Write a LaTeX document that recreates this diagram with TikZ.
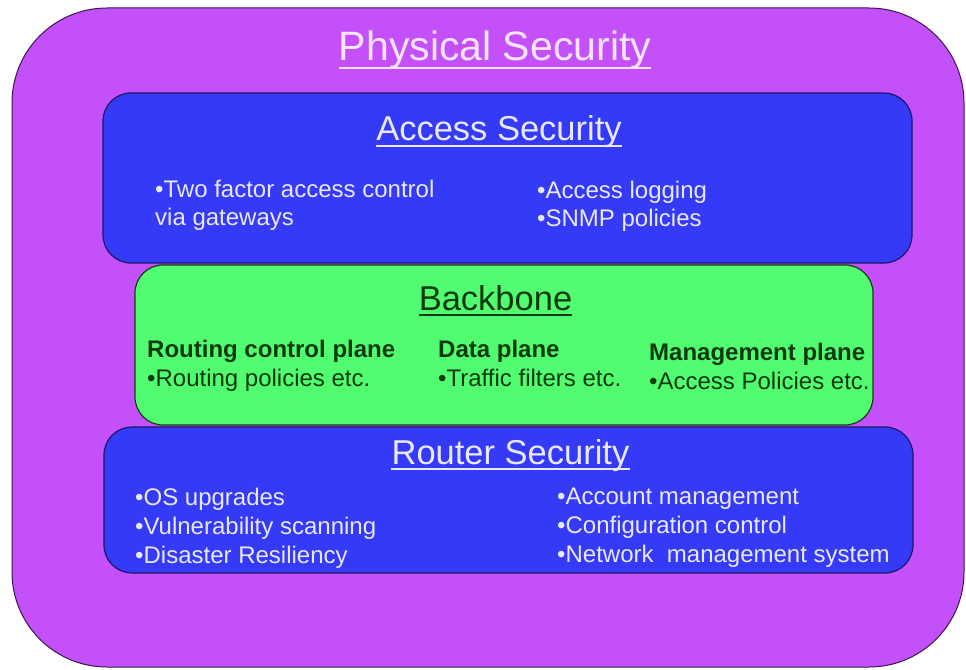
\documentclass[tikz,border=0pt]{standalone}
\usepackage{fontspec}
\setmainfont{Liberation Sans}
\definecolor{purp}{RGB}{196,80,250}
\definecolor{purpline}{RGB}{60,20,80}
\definecolor{bluebox}{RGB}{52,58,245}
\definecolor{blueline}{RGB}{25,25,100}
\definecolor{greenbox}{RGB}{82,252,112}
\definecolor{greenline}{RGB}{20,60,20}
\definecolor{bluetext}{RGB}{232,232,255}
\definecolor{purptext}{RGB}{250,228,255}
\definecolor{greentext}{RGB}{12,58,12}
\tikzset{
  x=1pt, y=-1pt,
  outerbox/.style={draw=purpline, fill=purp, line width=1pt, rounded corners=95pt},
  bluepanel/.style={draw=blueline, fill=bluebox, line width=1.2pt, rounded corners=28pt},
  greenpanel/.style={draw=greenline, fill=greenbox, line width=1.2pt, rounded corners=28pt},
  bigtitle/.style={anchor=base, inner sep=0pt, font=\fontsize{41}{48}\selectfont},
  title/.style={anchor=base, inner sep=0pt, font=\fontsize{34.5}{40}\selectfont},
  body/.style={anchor=base west, inner sep=0pt, font=\fontsize{24}{29}\selectfont},
  bodybold/.style={anchor=base west, inner sep=0pt, font=\fontsize{24}{29}\selectfont\bfseries},
  uline/.style={line width=2pt}
}
\begin{document}
\begin{tikzpicture}
\useasboundingbox (0,0) rectangle (966,669);
\fill[white] (0,0) rectangle (966,669);
% boxes
\draw[outerbox] (12,8) rectangle (964,667);
\draw[bluepanel] (103,93) rectangle (912,263);
\draw[bluepanel] (104,427) rectangle (913,573);
\draw[greenpanel] (135,265) rectangle (873,425);
% titles
\node[bigtitle, text=purptext] (phys) at (495,61) {Physical Security};
\draw[uline, purptext] ([yshift=-7pt]phys.base west) -- ([yshift=-7pt]phys.base east);
\node[title, text=bluetext] (acc) at (499,140) {Access Security};
\draw[uline, bluetext] ([yshift=-6pt]acc.base west) -- ([yshift=-6pt]acc.base east);
\node[title, text=greentext] (bb) at (495.5,310) {Backbone};
\draw[uline, greentext] ([yshift=-5pt]bb.base west) -- ([yshift=-5pt]bb.base east);
\node[title, text=bluetext] (rs) at (510.5,464) {Router Security};
\draw[uline, bluetext] ([yshift=-5pt]rs.base west) -- ([yshift=-5pt]rs.base east);
% access security text
\node[body, text=bluetext] (a1) at (155,197) {•Two factor access control};
\node[body, text=bluetext] (a2) at (155,225) {via gateways};
\node[body, text=bluetext] (a3) at (537,198) {•Access logging};
\node[body, text=bluetext] (a4) at (537,226) {•SNMP policies};
% backbone text
\node[bodybold, text=greentext] (b1) at (147,357) {Routing control plane};
\node[body, text=greentext] (b2) at (147,386) {•Routing policies etc.};
\node[bodybold, text=greentext] (b3) at (438,357) {Data plane};
\node[body, text=greentext] (b4) at (438,386) {•Traffic filters etc.};
\node[bodybold, text=greentext] (b5) at (649,360) {Management plane};
\node[body, text=greentext] (b6) at (649,389) {•Access Policies etc.};
% router security text
\node[body, text=bluetext] (r1) at (135,505) {•OS upgrades};
\node[body, text=bluetext] (r2) at (135,534) {•Vulnerability scanning};
\node[body, text=bluetext] (r3) at (135,563) {•Disaster Resiliency};
\node[body, text=bluetext] (r4) at (557,504) {•Account management};
\node[body, text=bluetext] (r5) at (557,533) {•Configuration control};
\node[body, text=bluetext] (r6) at (557,562) {•Network\ \ management system};
\end{tikzpicture}
\end{document}
